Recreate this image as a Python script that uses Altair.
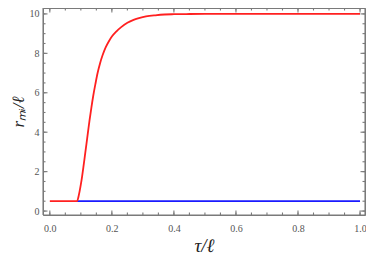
import altair as alt
import pandas as pd

# red curve r_{m_i}/ell vs tau/ell
red_x = [0.0, 0.088, 0.092, 0.096, 0.100, 0.104, 0.108, 0.113, 0.118, 0.123, 0.128,
         0.134, 0.140, 0.147, 0.154, 0.162, 0.170, 0.180, 0.190, 0.200, 0.215, 0.230,
         0.250, 0.270, 0.290, 0.310, 0.340, 0.370, 0.400, 0.450, 0.500, 0.600, 1.000]
red_y = [0.5, 0.5, 0.7, 1.0, 1.35, 1.75, 2.2, 2.8, 3.4, 4.0, 4.6,
         5.25, 5.85, 6.45, 7.0, 7.5, 7.9, 8.3, 8.6, 8.85, 9.12, 9.33,
         9.55, 9.7, 9.8, 9.87, 9.93, 9.97, 9.985, 9.995, 10.0, 10.0, 10.0]
# blue line
blue_x = [0.088, 1.0]
blue_y = [0.5, 0.5]

x_major = [0.0, 0.2, 0.4, 0.6, 0.8, 1.0]
x_minor = [round(i * 0.05, 2) for i in range(21)]
y_major = [0, 2, 4, 6, 8, 10]
y_minor = [i * 0.5 for i in range(21)]

x_lim = [-0.022, 1.016]
y_lim = [-0.2, 10.3]

W, H = 322, 207
xs = alt.Scale(domain=x_lim, nice=False, zero=False)
ys = alt.Scale(domain=y_lim, nice=False, zero=False)

red = pd.DataFrame({"x": red_x, "y": red_y})
blue = pd.DataFrame({"x": blue_x, "y": blue_y})

# frame and inward ticks, built from the tick arrays (tick lengths in data units)
x_span = x_lim[1] - x_lim[0]
y_span = y_lim[1] - y_lim[0]
rows = []
corners = [(x_lim[0], y_lim[0]), (x_lim[1], y_lim[0]), (x_lim[1], y_lim[1]),
           (x_lim[0], y_lim[1]), (x_lim[0], y_lim[0])]
for o, (cx, cy) in enumerate(corners):
    rows.append({"seg": "frame", "o": o, "x": cx, "y": cy})


def add_x_ticks(vals, px):
    d = px * y_span / H
    for t in vals:
        rows.extend([
            {"seg": f"xb{px}_{t}", "o": 0, "x": t, "y": y_lim[0]},
            {"seg": f"xb{px}_{t}", "o": 1, "x": t, "y": y_lim[0] + d},
            {"seg": f"xt{px}_{t}", "o": 0, "x": t, "y": y_lim[1]},
            {"seg": f"xt{px}_{t}", "o": 1, "x": t, "y": y_lim[1] - d},
        ])


def add_y_ticks(vals, px):
    d = px * x_span / W
    for t in vals:
        rows.extend([
            {"seg": f"yl{px}_{t}", "o": 0, "x": x_lim[0], "y": t},
            {"seg": f"yl{px}_{t}", "o": 1, "x": x_lim[0] + d, "y": t},
            {"seg": f"yr{px}_{t}", "o": 0, "x": x_lim[1], "y": t},
            {"seg": f"yr{px}_{t}", "o": 1, "x": x_lim[1] - d, "y": t},
        ])


add_x_ticks(x_minor, 2.5)
add_x_ticks(x_major, 4.5)
add_y_ticks(y_minor, 2.5)
add_y_ticks(y_major, 4.5)
frame_df = pd.DataFrame(rows)

serif = "Liberation Serif"
frame_color = "#7a7a7a"

xaxis = alt.Axis(orient="bottom", values=x_major, format=".1f", ticks=False, domain=False, grid=False,
                 labelFont=serif, labelFontSize=10, labelColor="#555555", labelPadding=8,
                 title="τ/ℓ", titleFont=serif, titleFontStyle="italic", titleFontWeight="normal",
                 titleFontSize=19, titleColor="#222222", titlePadding=3)
yaxis = alt.Axis(orient="left", values=y_major, format="d", ticks=False, domain=False, grid=False,
                 labelFont=serif, labelFontSize=10, labelColor="#555555", labelPadding=4,
                 title="rₘᵢ/ℓ", titleFont=serif, titleFontStyle="italic", titleFontWeight="normal",
                 titleFontSize=17, titleColor="#222222", titlePadding=2)

frame = alt.Chart(frame_df).mark_line(color=frame_color, strokeWidth=1.1).encode(
    x=alt.X("x:Q", scale=xs, axis=xaxis),
    y=alt.Y("y:Q", scale=ys, axis=yaxis),
    detail="seg:N",
    order="o:O",
)

blue_line = alt.Chart(blue).mark_line(color="#1a1aff", strokeWidth=1.8).encode(
    x=alt.X("x:Q", scale=xs),
    y=alt.Y("y:Q", scale=ys),
)
red_line = alt.Chart(red).mark_line(color="#ff2020", strokeWidth=1.8, interpolate="monotone").encode(
    x=alt.X("x:Q", scale=xs),
    y=alt.Y("y:Q", scale=ys),
)

chart = alt.layer(frame, blue_line, red_line).properties(
    width=W, height=H,
    background="white",
    autosize=alt.AutoSizeParams(type="none"),
    padding={"left": 35, "top": 0, "right": 1, "bottom": 40},
).configure_view(stroke=frame_color, strokeWidth=1)

chart.save("out.html", embed_options={"renderer": "svg", "actions": False})
